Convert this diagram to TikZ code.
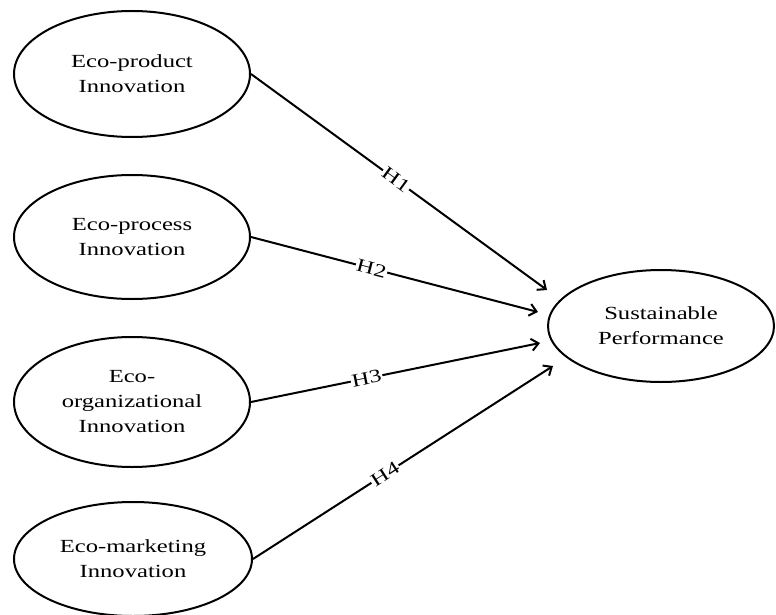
\documentclass[tikz,border=0pt]{standalone}
\usepackage{fontspec}
\setmainfont{Liberation Serif}[FakeStretch=1.33]
\usetikzlibrary{shapes.geometric,arrows.meta}
\begin{document}
\begin{tikzpicture}[x=1pt,y=-1pt,
  construct/.style={draw,ellipse,line width=2pt,minimum width=236pt,minimum height=126pt,inner sep=0pt,align=center,
    font=\fontsize{18.5pt}{25pt}\selectfont},
  path/.style={draw,line width=2pt,-{Straight Barb[length=7pt,width=12pt,line width=2pt]}},
  hyp/.style={sloped,fill=white,inner sep=1pt,font=\fontsize{18.5pt}{25pt}\selectfont}]
\useasboundingbox (0,0) rectangle (776,615);
\node[construct] (e1) at (132,74) {Eco-product\\Innovation};
\node[construct,minimum height=124pt] (e2) at (132,237) {Eco-process\\Innovation};
\node[construct,minimum height=130pt] (e3) at (132,402) {Eco-\\organizational\\Innovation};
\node[construct,minimum height=114pt,minimum width=238pt] (e4) at (133,559) {Eco-marketing\\Innovation};
\node[construct,minimum width=226pt,minimum height=112pt] (sp) at (661,326) {Sustainable\\Performance};
\coordinate (t1) at (547,290);
\coordinate (t2) at (538,312);
\coordinate (t3) at (540,343);
\coordinate (t4) at (553,366);
\draw[path] (e1.east) -- node[hyp,pos=0.49] {H1} (t1);
\draw[path] (e2.east) -- node[hyp,pos=0.42] {H2} (t2);
\draw[path] (e3.east) -- node[hyp,pos=0.40] {H3} (t3);
\draw[path] (e4.east) -- node[hyp,pos=0.44] {H4} (t4);
\end{tikzpicture}
\end{document}
